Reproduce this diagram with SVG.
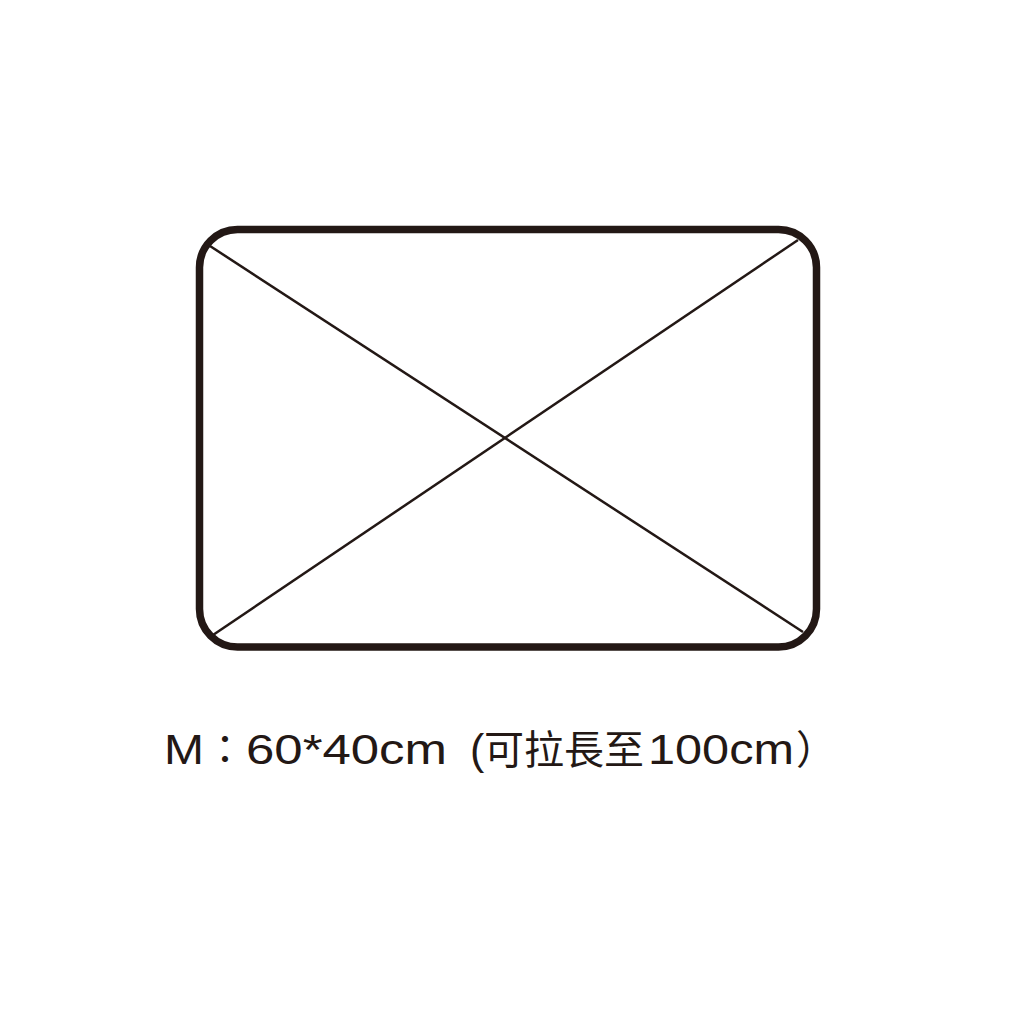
<svg xmlns="http://www.w3.org/2000/svg" width="1024" height="1024" viewBox="0 0 1024 1024">
<style>
.frame{fill:none;stroke:#231815;stroke-width:7.5}
.diag{stroke:#231815;stroke-width:2.5;fill:none}
.lbl{font-family:"Liberation Sans","Noto Sans CJK TC",sans-serif;font-size:43px;fill:#231815}
.cjk{font-family:"Noto Sans CJK TC",sans-serif;font-size:40px}
</style>
<rect width="1024" height="1024" fill="#fff"/>
<g id="mat">
<rect class="frame" x="199.5" y="229.5" width="617" height="417.5" rx="38" ry="38"/>
</g>
<g id="connectors">
<line class="diag" x1="210" y1="246" x2="803" y2="632"/>
<line class="diag" x1="798" y1="240" x2="213" y2="635"/>
</g>
<g id="label">
<text class="lbl" y="764"><tspan x="164" textLength="40" lengthAdjust="spacingAndGlyphs">M</tspan><tspan class="cjk" x="205">：</tspan><tspan x="246" textLength="201" lengthAdjust="spacingAndGlyphs">60*40cm</tspan><tspan x="470">(</tspan><tspan class="cjk" x="484">可拉長至</tspan><tspan x="648" textLength="146" lengthAdjust="spacingAndGlyphs">100cm</tspan><tspan class="cjk" x="796">）</tspan></text>
</g>
</svg>
